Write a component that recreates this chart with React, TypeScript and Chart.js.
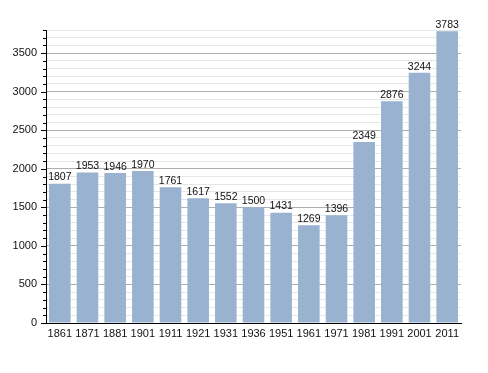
import React, { useEffect, useRef } from "react";
import { Chart, registerables } from "chart.js";

Chart.register(...registerables);

const years = ["1861", "1871", "1881", "1901", "1911", "1921", "1931", "1936", "1951", "1961", "1971", "1981", "1991", "2001", "2011"];
const population = [1807, 1953, 1946, 1970, 1761, 1617, 1552, 1500, 1431, 1269, 1396, 2349, 2876, 3244, 3783];
const yMax = 3800;
const minorStep = 100;
const majorStep = 500;

const FONT = "'Liberation Sans', Arial, sans-serif";

const labelPlugin = {
  id: "barLabels",
  afterDatasetsDraw(chart: any) {
    const ctx = chart.ctx;
    const meta = chart.getDatasetMeta(0);
    ctx.save();
    ctx.font = `10.5px ${FONT}`;
    ctx.fillStyle = "#111";
    ctx.textAlign = "center";
    ctx.textBaseline = "bottom";
    meta.data.forEach((el: any, i: number) => {
      ctx.fillText(String(population[i]), el.x, el.y - 1);
    });
    ctx.restore();
  },
};

const tickPlugin = {
  id: "yTicks",
  afterDraw(chart: any) {
    const ctx = chart.ctx;
    const y = chart.scales.y;
    const left = chart.chartArea.left;
    ctx.save();
    ctx.strokeStyle = "#000";
    ctx.lineWidth = 1;
    for (let v = 0; v <= yMax; v += minorStep) {
      const py = Math.round(y.getPixelForValue(v)) + 0.5;
      const len = v % majorStep === 0 ? 5 : 3;
      ctx.beginPath();
      ctx.moveTo(left - len, py);
      ctx.lineTo(left, py);
      ctx.stroke();
    }
    ctx.restore();
  },
};

export default function App() {
  const ref = useRef<HTMLCanvasElement>(null);
  useEffect(() => {
    if (!ref.current) return;
    const chart = new Chart(ref.current, {
      type: "bar",
      data: {
        labels: years,
        datasets: [
          {
            data: population,
            backgroundColor: "#98b2cf",
            borderWidth: 0,
            barPercentage: 0.78,
            categoryPercentage: 1,
          },
        ],
      },
      options: {
        animation: false,
        responsive: false,
        maintainAspectRatio: false,
        layout: { padding: { left: 8, right: 27, top: 30, bottom: 22 } },
        plugins: { legend: { display: false }, tooltip: { enabled: false } },
        scales: {
          x: {
            grid: { display: false, drawTicks: false },
            border: { display: true, color: "#000", width: 1 },
            ticks: { color: "#111", font: { family: FONT, size: 11 }, padding: 4, autoSkip: false, maxRotation: 0 },
            afterFit: (s: any) => {
              s.height = 28;
            },
          },
          y: {
            min: 0,
            max: yMax,
            grid: {
              drawTicks: false,
              color: (c: any) => (c.tick && c.tick.value % majorStep === 0 ? "#aeaeae" : "#e6e6e6"),
              lineWidth: 1,
            },
            border: { display: true, color: "#000", width: 1 },
            ticks: {
              stepSize: minorStep,
              autoSkip: false,
              padding: 9,
              color: "#111",
              font: { family: FONT, size: 11 },
              callback: (v: any) => (Number(v) % majorStep === 0 ? String(v) : ""),
            },
            afterFit: (s: any) => {
              s.width = 38;
            },
          },
        },
      },
      plugins: [labelPlugin, tickPlugin],
    });
    return () => chart.destroy();
  }, []);
  return (
    <div style={{ position: "fixed", left: 0, top: 0, width: 488, height: 373, background: "#fff" }}>
      <canvas ref={ref} width={488} height={373} style={{ width: 488, height: 373 }} />
    </div>
  );
}
